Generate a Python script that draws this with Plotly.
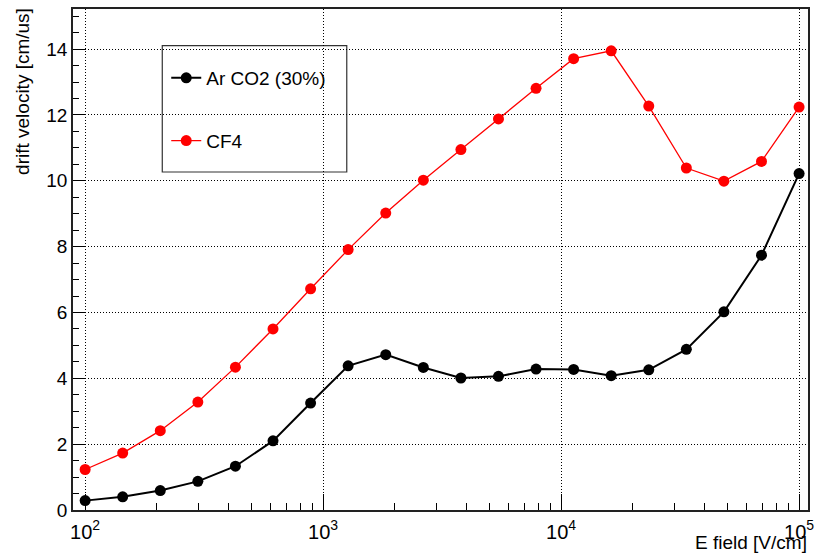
import plotly.graph_objects as go

# E field values [V/cm]
e_field = [100, 143.8, 206.9, 297.6, 428.1, 615.8, 885.9, 1274, 1833, 2637,
           3793, 5456, 7848, 11288, 16238, 23357, 33598, 48329, 69519, 100000]
# drift velocity [cm/us]
arco2 = [0.285, 0.40, 0.59, 0.87, 1.33, 2.10, 3.25, 4.38, 4.72, 4.33,
         4.01, 4.06, 4.28, 4.27, 4.08, 4.26, 4.88, 6.02, 7.74, 10.22]
cf4 = [1.23, 1.73, 2.41, 3.28, 4.34, 5.50, 6.72, 7.91, 9.02, 10.02,
       10.95, 11.88, 12.81, 13.71, 13.95, 12.27, 10.39, 9.99, 10.59, 12.24]

series_names = ["Ar CO2 (30%)", "CF4"]
x_major = [100, 1000, 10000, 100000]
x_major_text = ["10<sup>2</sup>", "10<sup>3</sup>", "10<sup>4</sup>", "10<sup>5</sup>"]
x_minor = [m * d for d in (100, 1000, 10000) for m in range(2, 10)]
y_major = [0, 2, 4, 6, 8, 10, 12, 14]

FONT = "Liberation Sans, Arial, Helvetica, sans-serif"

fig = go.Figure()
fig.add_trace(go.Scatter(
    x=e_field, y=arco2, name=series_names[0], mode="lines+markers",
    line=dict(color="black", width=2), marker=dict(color="black", size=11),
    legendgroup="a"))
fig.add_trace(go.Scatter(
    x=e_field, y=cf4, name=series_names[1], mode="lines+markers",
    line=dict(color="#ff0000", width=1.3), marker=dict(color="#ff0000", size=11),
    legendgroup="b"))

W, H = 817, 557
L, R, T, B = 73, 3, 9, 47
pw, ph = W - L - R, H - T - B

def px_x(p):
    return (p - L) / pw

def px_y(p):
    return (H - B - p) / ph

fig.update_layout(
    width=W, height=H, autosize=False,
    margin=dict(l=L, r=R, t=T, b=B, pad=0),
    paper_bgcolor="white", plot_bgcolor="white",
    font=dict(family=FONT, color="black", size=19),
    showlegend=True,
    legend=dict(x=px_x(167), y=px_y(59), xanchor="left", yanchor="top",
                bgcolor="rgba(0,0,0,0)", borderwidth=0,
                font=dict(size=19), tracegroupgap=35),
    xaxis=dict(type="log", range=[1.949, 5.0375],
               tickmode="array", tickvals=x_major, ticktext=x_major_text,
               ticks="inside", ticklen=16, tickwidth=1, tickcolor="black",
               tickfont=dict(size=20), ticklabeloverflow="allow",
               ticklabelstandoff=3,
               showgrid=True, gridcolor="black", gridwidth=1, griddash="1px,2px",
               minor=dict(tickmode="array", tickvals=x_minor, ticks="inside",
                          ticklen=7, tickwidth=1, tickcolor="black", showgrid=False),
               showline=True, linecolor="#222", linewidth=1.5, mirror=True,
               zeroline=False),
    yaxis=dict(range=[0, 15.22], tickmode="array", tickvals=y_major,
               ticks="inside", ticklen=12, tickwidth=1, tickcolor="black",
               tickfont=dict(size=19), ticklabeloverflow="allow",
               showgrid=True, gridcolor="black", gridwidth=1, griddash="1px,2px",
               minor=dict(dtick=0.5, tick0=0, ticks="inside", ticklen=6,
                          tickwidth=1, tickcolor="black", showgrid=False),
               showline=True, linecolor="#222", linewidth=1.5, mirror=True,
               zeroline=False),
    shapes=[dict(type="rect", xref="paper", yref="paper",
                 x0=px_x(163), x1=px_x(349), y0=px_y(172), y1=px_y(45.7),
                 line=dict(color="#333", width=1.2), fillcolor="white", layer="below")],
    annotations=[
        dict(text="E field [V/cm]", xref="paper", yref="paper",
             x=px_x(815), y=px_y(542), xanchor="right", yanchor="middle",
             showarrow=False, font=dict(size=19)),
        dict(text="drift velocity [cm/us]", xref="paper", yref="paper",
             x=px_x(22), y=px_y(6), xanchor="center", yanchor="top",
             textangle=-90, showarrow=False, font=dict(size=19)),
    ],
)

fig.write_html("out.html")
